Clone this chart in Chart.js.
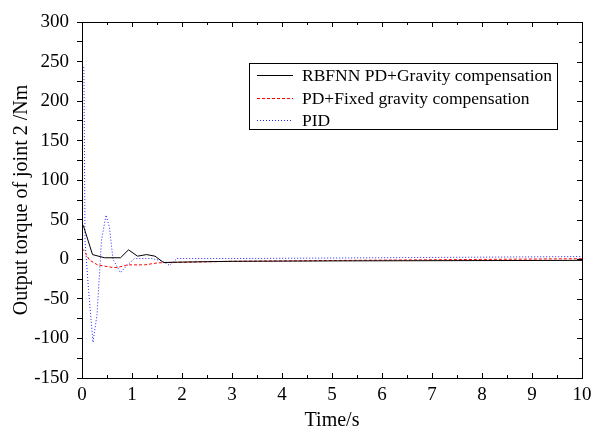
<!DOCTYPE html>
<html>
<head>
<meta charset="utf-8">
<script src="https://cdn.jsdelivr.net/npm/chart.js@4"></script>
<style>
  html, body { margin: 0; padding: 0; background: #fff; }
  #wrap { width: 591px; height: 433px; }
</style>
</head>
<body>
<div id="wrap"><canvas id="torqueChart" width="591" height="433"></canvas></div>
<script>
// values
const seriesNames = ["RBFNN PD+Gravity compensation", "PD+Fixed gravity compensation", "PID"];
const seriesColors = ["#000000", "#ff0000", "#2020ff"];
const seriesDash = [[], [3, 2], [1, 2]];

const tRbf = [0, 0.03, 0.21, 0.45, 0.77, 0.93, 1.11, 1.29, 1.46, 1.63, 2, 3, 5, 7, 10];
const vRbf = [45, 42, 6, 2, 2, 12, 4, 6, 4, -4, -3.5, -2.5, -2, -1.7, -1.3];

const tPd = [0, 0.03, 0.15, 0.31, 0.58, 0.7, 0.91, 1.25, 1.51, 1.7, 3, 6, 10];
const vPd = [13, 12, -1, -7, -10, -10.5, -7, -7, -4.5, -4, -2.5, -1, 0.8];

const tPid = [0.035, 0.04, 0.06, 0.13, 0.22, 0.3, 0.39, 0.48, 0.55, 0.62, 0.71, 0.77, 0.88, 1.05, 1.4, 1.6, 1.75, 1.9, 3, 6, 10];
const vPid = [243, 230, 24, -38, -105, -70, 24, 56, 40, 0, -10, -17, -9, 1, 1, -2, -7.6, 1, 1, 2, 3.5];

const xTicksMajor = [0, 1, 2, 3, 4, 5, 6, 7, 8, 9, 10];
const yTicksMajor = [-150, -100, -50, 0, 50, 100, 150, 200, 250, 300];

const serif = "'Liberation Serif', 'DejaVu Serif', serif";

function toPoints(ts, vs) {
  return ts.map((t, i) => ({ x: t, y: vs[i] }));
}

// box + inward ticks on the top, right and bottom sides
const framePlugin = {
  id: "frame",
  afterDatasetsDraw(chart) {
    const { ctx, chartArea: a, scales } = chart;
    ctx.save();
    ctx.strokeStyle = "#000";
    ctx.lineWidth = 1;
    ctx.strokeRect(a.left + 0.5, a.top + 0.5, a.right - a.left, a.bottom - a.top);
    ctx.beginPath();
    scales.x.ticks.forEach((tk) => {
      const px = Math.round(scales.x.getPixelForValue(tk.value)) + 0.5;
      const len = xTicksMajor.includes(tk.value) ? 5 : 3;
      ctx.moveTo(px, a.bottom);
      ctx.lineTo(px, a.bottom - len);
      ctx.moveTo(px, a.top);
      ctx.lineTo(px, a.top + len);
    });
    scales.y.ticks.forEach((tk) => {
      const py = Math.round(scales.y.getPixelForValue(tk.value)) + 0.5;
      const len = yTicksMajor.includes(tk.value) ? 5 : 3;
      ctx.moveTo(a.right, py);
      ctx.lineTo(a.right - len, py);
    });
    ctx.stroke();
    ctx.restore();
  },
};

// legend box inside the plot, upper right
const boxLegend = {
  id: "boxLegend",
  afterDraw(chart) {
    const c = chart.ctx;
    const left = 249, top = 63, rowH = 22.5;
    c.save();
    c.font = "17.5px " + serif;
    const widest = Math.max(...seriesNames.map((s) => c.measureText(s).width));
    const w = 53 + widest + 5;
    const h = 66;
    c.fillStyle = "#fff";
    c.fillRect(left, top, w, h);
    c.strokeStyle = "#000";
    c.lineWidth = 1;
    c.strokeRect(left + 0.5, top + 0.5, w, h);
    seriesNames.forEach((name, i) => {
      const y = Math.round(top + 12 + i * rowH);
      // sample line, drawn as small filled segments
      c.fillStyle = seriesColors[i];
      const dash = seriesDash[i];
      if (dash.length === 0) {
        c.fillRect(left + 8, y, 36, 1);
      } else {
        for (let x = left + 8; x < left + 44; x += dash[0] + dash[1]) {
          c.fillRect(x, y, Math.min(dash[0], left + 44 - x), 1);
        }
      }
      c.fillStyle = "#000";
      c.textBaseline = "middle";
      c.fillText(name, left + 53, y + 1.5);
    });
    c.restore();
  },
};

const ctx = document.getElementById("torqueChart").getContext("2d");

new Chart(ctx, {
  type: "line",
  data: {
    datasets: [
      { label: seriesNames[0], data: toPoints(tRbf, vRbf) },
      { label: seriesNames[1], data: toPoints(tPd, vPd) },
      { label: seriesNames[2], data: toPoints(tPid, vPid) },
    ].map((d, i) => ({
      ...d,
      borderColor: seriesColors[i],
      borderWidth: 1,
      borderDash: seriesDash[i],
    })),
  },
  options: {
    responsive: false,
    animation: false,
    elements: { point: { radius: 0 }, line: { tension: 0 } },
    layout: { padding: { top: 22, right: 0, left: 0, bottom: 0 } },
    plugins: {
      legend: { display: false },
      tooltip: { enabled: false },
    },
    scales: {
      x: {
        type: "linear",
        min: 0,
        max: 10,
        afterFit(scale) {
          scale.height = 55;
          scale.paddingLeft = 0;
          scale.paddingRight = 9;
        },
        ticks: {
          stepSize: 0.5,
          autoSkip: false,
          maxRotation: 0,
          padding: 6,
          color: "#000",
          font: { size: 19, family: serif },
          callback: (v) => (xTicksMajor.includes(v) ? String(v) : ""),
        },
        grid: { drawOnChartArea: false, drawTicks: false },
        border: { display: true, color: "#000", width: 1 },
        title: {
          display: true,
          text: "Time/s",
          color: "#000",
          font: { size: 20, family: serif },
          padding: { top: 0, bottom: 0 },
        },
      },
      y: {
        min: -150,
        max: 300,
        afterFit(scale) { scale.width = 82; },
        ticks: {
          stepSize: 25,
          autoSkip: false,
          padding: 8,
          color: "#000",
          font: { size: 19, family: serif },
          callback: (v) => (yTicksMajor.includes(v) ? String(v) : ""),
        },
        grid: { drawOnChartArea: false, color: "#000", tickLength: 5 },
        border: { display: true, color: "#000", width: 1 },
        title: {
          display: true,
          text: "Output torque of joint 2 /Nm",
          color: "#000",
          font: { size: 20, family: serif },
          padding: { top: 10, bottom: 0 },
        },
      },
    },
  },
  plugins: [framePlugin, boxLegend],
});
</script>
</body>
</html>
